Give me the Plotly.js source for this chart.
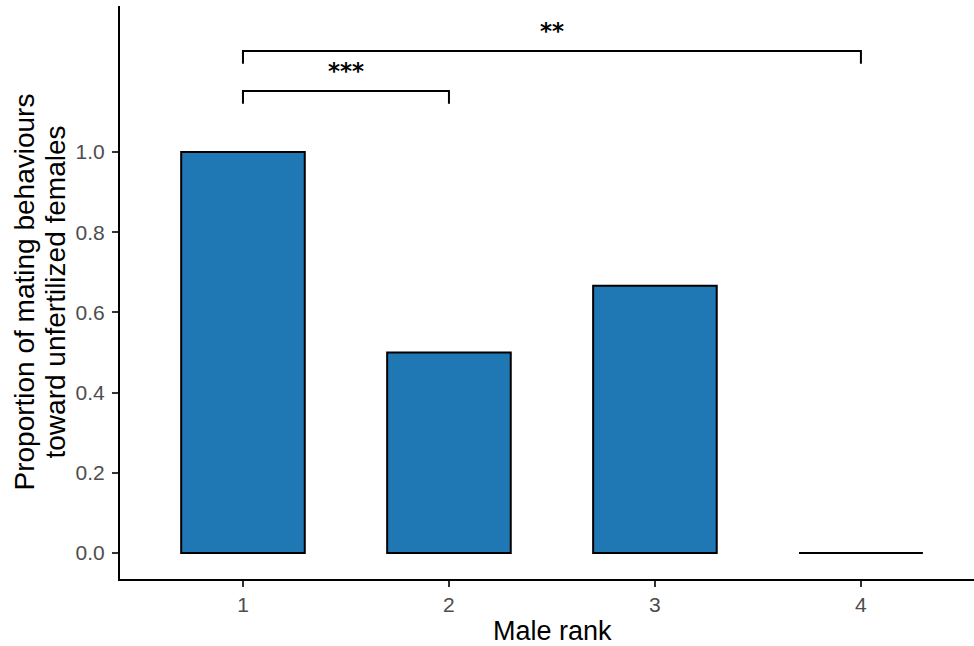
<!DOCTYPE html>
<html>
<head>
<meta charset="utf-8">
<script src="https://cdn.plot.ly/plotly-3.0.1.min.js"></script>
<style>html,body{margin:0;padding:0;background:#fff;}#chart{width:974px;height:646px;}</style>
</head>
<body>
<div id="chart"></div>
<script>
const ranks = [1, 2, 3, 4];
const tickLabels = ["1", "2", "3", "4"];
const proportions = [1.0, 0.5, 0.6667, 0.0];
const yTickVals = [0, 0.2, 0.4, 0.6, 0.8, 1.0];
const yTickLabels = ["0.0", "0.2", "0.4", "0.6", "0.8", "1.0"];
const compFrom = [1, 1];
const compTo = [2, 4];
const compY = [1.152, 1.252];
const compLabels = ["***", "**"];
const xTitle = "Male rank";
const yTitleLines = ["Proportion of mating behaviours", "toward unfertilized females"];

const barWidth = 0.6;
const tickDrop = 0.032;
const labelOffset = 0.05;
const FONT = 'Liberation Sans, Arial, sans-serif';
const LW = 2;

const traces = [{
  type: 'bar',
  x: ranks,
  y: proportions,
  width: barWidth,
  marker: {color: '#1f77b4', line: {color: '#000', width: LW}},
  hoverinfo: 'skip'
}];

ranks.forEach((r, i) => {
  if (proportions[i] === 0) {
    traces.push({type: 'scatter', mode: 'lines', x: [r - barWidth/2, r + barWidth/2], y: [proportions[i], proportions[i]],
      line: {color: '#000', width: LW}, hoverinfo: 'skip'});
  }
});

compFrom.forEach((a, i) => {
  const b = compTo[i], y = compY[i];
  traces.push({type: 'scatter', mode: 'lines', x: [a, a, b, b], y: [y - tickDrop, y, y, y - tickDrop],
    line: {color: '#000', width: LW}, hoverinfo: 'skip'});
});

const annotations = compFrom.map((a, i) => ({
  x: (a + compTo[i]) / 2, y: compY[i] + labelOffset, xref: 'x', yref: 'y',
  text: compLabels[i], showarrow: false, font: {family: 'DejaVu Sans, sans-serif', size: 23, color: '#000', weight: 'bold'}
}));

annotations.push({
  text: xTitle, xref: 'paper', yref: 'paper', x: 0.5059, y: 0, yshift: -52,
  xanchor: 'center', yanchor: 'middle', showarrow: false,
  font: {family: FONT, size: 27, color: '#000'}
});
yTitleLines.forEach((t, i) => {
  annotations.push({
    text: t, xref: 'paper', yref: 'paper', x: 0, y: 0.5, xshift: i === 0 ? -96 : -65,
    xanchor: 'center', yanchor: 'middle', textangle: -90, showarrow: false,
    font: {family: FONT, size: 28, color: '#000'}
  });
});

Plotly.newPlot('chart', traces, {
  width: 974, height: 646,
  margin: {l: 120, r: 0, t: 6, b: 67},
  paper_bgcolor: '#fff', plot_bgcolor: '#fff',
  showlegend: false,
  font: {family: FONT},
  xaxis: {
    range: [0.403, 4.549], tickvals: ranks, ticktext: tickLabels,
    showgrid: false, zeroline: false, showline: true, linecolor: '#000', linewidth: 2,
    ticks: 'outside', ticklen: 6, tickwidth: 1.8, tickcolor: '#333',
    tickfont: {size: 21, color: '#4d4d4d'}
  },
  yaxis: {
    range: [-0.0648, 1.364], tickvals: yTickVals, ticktext: yTickLabels,
    showgrid: false, zeroline: false, showline: true, linecolor: '#000', linewidth: 2,
    ticks: 'outside', ticklen: 6, tickwidth: 1.8, tickcolor: '#333',
    ticklabelstandoff: 3,
    tickfont: {size: 21, color: '#4d4d4d'}
  },
  annotations: annotations
}, {displayModeBar: false, staticPlot: true});
</script>
</body>
</html>
